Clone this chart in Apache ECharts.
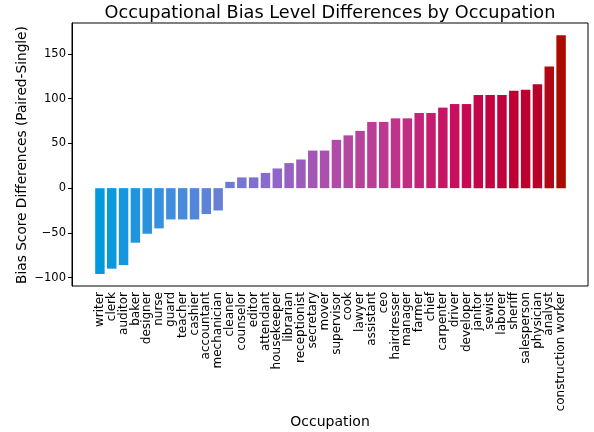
<!DOCTYPE html>
<html>
<head>
<meta charset="utf-8">
<script src="https://cdn.jsdelivr.net/npm/echarts@6/dist/echarts.min.js"></script>
<style>
  html, body { margin: 0; padding: 0; background: #fff; }
  #chart { width: 594px; height: 432px; }
</style>
</head>
<body>
<div id="chart"></div>
<script>
// occupations, sorted by difference
const occupations = ['writer', 'clerk', 'auditor', 'baker', 'designer', 'nurse', 'guard', 'teacher', 'cashier', 'accountant',
  'mechanician', 'cleaner', 'counselor', 'editor', 'attendant', 'housekeeper', 'librarian', 'receptionist', 'secretary', 'mover',
  'supervisor', 'cook', 'lawyer', 'assistant', 'ceo', 'hairdresser', 'manager', 'farmer', 'chief', 'carpenter',
  'driver', 'developer', 'janitor', 'sewist', 'laborer', 'sheriff', 'salesperson', 'physician', 'analyst', 'construction worker']
// paired - single bias score
const differences = [-96, -90, -86, -61, -51, -45, -35, -35, -35, -29,
  -25, 7, 12, 12, 17, 22, 28, 32, 42, 42,
  54, 59, 64, 74, 74, 78, 78, 84, 84, 90,
  94, 94, 104, 104, 104, 109, 110, 116, 136, 171]
const yTicks = [-100, -50, 0, 50, 100, 150]

// colour ramp (blue -> purple -> crimson -> dark red)
const colorStops = [
  [0, [0, 154, 221]],
  [5, [53, 144, 223]],
  [10, [102, 128, 214]],
  [15, [144, 102, 200]],
  [20, [176, 76, 168]],
  [25, [192, 51, 138]],
  [30, [200, 14, 92]],
  [33, [196, 0, 64]],
  [37, [185, 0, 42]],
  [39, [170, 12, 0]]
]
function rampColor (i) {
  for (let k = 0; k < colorStops.length - 1; k++) {
    const a = colorStops[k], b = colorStops[k + 1]
    if (i >= a[0] && i <= b[0]) {
      const t = (i - a[0]) / (b[0] - a[0])
      const c = a[1].map((v, j) => Math.round(v + (b[1][j] - v) * t))
      return 'rgb(' + c.join(',') + ')'
    }
  }
  return 'rgb(' + colorStops[colorStops.length - 1][1].join(',') + ')'
}

const yMin = -109.4
const yMax = 184.6
const font = 'DejaVu Sans'

const chart = echarts.init(document.getElementById('chart'))
const option = {
  animation: false,
  backgroundColor: '#fff',
  textStyle: { fontFamily: font },
  grid: [
    // frame + y axis
    { left: 72, right: 6, top: 23, bottom: 146, show: true, borderColor: '#000', borderWidth: 1, backgroundColor: 'transparent' },
    // bars
    { left: 94, right: 27, top: 23, bottom: 146 }
  ],
  xAxis: [
    { gridIndex: 0, type: 'value', show: false, min: 0, max: 1 },
    {
      gridIndex: 1,
      type: 'category',
      data: occupations,
      axisLine: { show: false },
      axisTick: { alignWithLabel: true, length: 4, lineStyle: { color: '#000' } },
      axisLabel: { interval: 0, rotate: 90, fontSize: 12, color: '#000', fontFamily: font, margin: 6 }
    }
  ],
  yAxis: [
    {
      gridIndex: 0,
      type: 'value',
      min: yMin,
      max: yMax,
      splitNumber: 5,
      splitLine: { show: false },
      axisLine: { show: true, lineStyle: { color: '#000' } },
      axisTick: { show: true, length: 4, lineStyle: { color: '#000' } },
      axisLabel: {
        showMinLabel: false,
        showMaxLabel: false,
        fontSize: 11.5,
        color: '#000',
        fontFamily: font,
        margin: 6,
        formatter: function (v) {
          if (yTicks.indexOf(Math.round(v)) < 0 || Math.abs(v - Math.round(v)) > 1e-6) return ''
          return v < 0 ? '\u2212' + Math.abs(v) : String(v)
        }
      }
    },
    { gridIndex: 1, type: 'value', min: yMin, max: yMax, show: false }
  ],
  series: [
    {
      type: 'bar',
      xAxisIndex: 1,
      yAxisIndex: 1,
      barWidth: '80%',
      data: differences.map((v, i) => ({ value: v, itemStyle: { color: rampColor(i) } }))
    }
  ],
  graphic: [
    {
      type: 'text',
      x: 330,
      y: 13,
      style: { text: 'Occupational Bias Level Differences by Occupation', fontFamily: font, fontSize: 17.7, fill: '#000', align: 'center', verticalAlign: 'middle' }
    },
    {
      type: 'text',
      x: 330,
      y: 422,
      style: { text: 'Occupation', fontFamily: font, fontSize: 14, fill: '#000', align: 'center', verticalAlign: 'middle' }
    },
    {
      type: 'text',
      x: 22,
      y: 155,
      rotation: Math.PI / 2,
      style: { text: 'Bias Score Differences (Paired-Single)', fontFamily: font, fontSize: 13.7, fill: '#000', align: 'center', verticalAlign: 'middle' }
    }
  ]
}
chart.setOption(option)
</script>
</body>
</html>
